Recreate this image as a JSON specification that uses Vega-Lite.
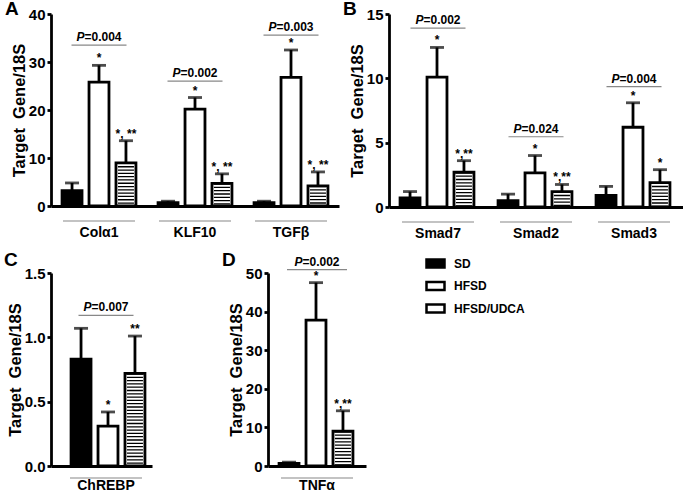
{
  "$schema": "https://vega.github.io/schema/vega-lite/v6.json",
  "background": "white",
  "padding": {"left": 4, "top": 0, "right": 0, "bottom": 0},
  "config": {
    "font": "Liberation Sans",
    "view": {"stroke": null},
    "axis": {"domainColor": "black", "domainWidth": 2.8, "tickColor": "black", "tickWidth": 2.8, "labelFontWeight": "bold", "labelColor": "black", "titleFontWeight": "bold", "titleColor": "black", "grid": false},
    "axisX": {"ticks": false, "labelFontSize": 14, "labelAngle": 0},
    "axisY": {"tickSize": 4, "labelFontSize": 15, "titleFontSize": 16.5, "labelPadding": 2, "titlePadding": 1, "labelOverlap": false, "labelFlush": false},
    "title": {"fontSize": 19, "fontWeight": "bold", "anchor": "start", "frame": "group", "offset": 0, "color": "black", "baseline": "top"}
  },
  "datasets": {
    "bars": [
      {"panel": "A", "gene": "Colα1", "group": "SD", "value": 3.2, "upper": 4.8, "sig": ""},
      {"panel": "A", "gene": "Colα1", "group": "HFSD", "value": 25.8, "upper": 29.3, "sig": "*"},
      {"panel": "A", "gene": "Colα1", "group": "HFSD/UDCA", "value": 9.0, "upper": 13.6, "sig": "*, **"},
      {"panel": "A", "gene": "KLF10", "group": "SD", "value": 0.7, "upper": 1.0, "sig": ""},
      {"panel": "A", "gene": "KLF10", "group": "HFSD", "value": 20.2, "upper": 22.6, "sig": "*"},
      {"panel": "A", "gene": "KLF10", "group": "HFSD/UDCA", "value": 4.7, "upper": 6.7, "sig": "*, **"},
      {"panel": "A", "gene": "TGFβ", "group": "SD", "value": 0.7, "upper": 1.0, "sig": ""},
      {"panel": "A", "gene": "TGFβ", "group": "HFSD", "value": 26.8, "upper": 32.5, "sig": "*"},
      {"panel": "A", "gene": "TGFβ", "group": "HFSD/UDCA", "value": 4.2, "upper": 7.1, "sig": "*, **"},
      {"panel": "B", "gene": "Smad7", "group": "SD", "value": 0.7, "upper": 1.2, "sig": ""},
      {"panel": "B", "gene": "Smad7", "group": "HFSD", "value": 10.1, "upper": 12.4, "sig": "*"},
      {"panel": "B", "gene": "Smad7", "group": "HFSD/UDCA", "value": 2.7, "upper": 3.6, "sig": "*,**"},
      {"panel": "B", "gene": "Smad2", "group": "SD", "value": 0.5, "upper": 1.0, "sig": ""},
      {"panel": "B", "gene": "Smad2", "group": "HFSD", "value": 2.65, "upper": 4.0, "sig": "*"},
      {"panel": "B", "gene": "Smad2", "group": "HFSD/UDCA", "value": 1.2, "upper": 1.75, "sig": "*,**"},
      {"panel": "B", "gene": "Smad3", "group": "SD", "value": 0.9, "upper": 1.6, "sig": ""},
      {"panel": "B", "gene": "Smad3", "group": "HFSD", "value": 6.2, "upper": 8.1, "sig": "*"},
      {"panel": "B", "gene": "Smad3", "group": "HFSD/UDCA", "value": 1.9, "upper": 2.9, "sig": "*"},
      {"panel": "C", "gene": "ChREBP", "group": "SD", "value": 0.83, "upper": 1.07, "sig": ""},
      {"panel": "C", "gene": "ChREBP", "group": "HFSD", "value": 0.31, "upper": 0.42, "sig": "*"},
      {"panel": "C", "gene": "ChREBP", "group": "HFSD/UDCA", "value": 0.72, "upper": 1.01, "sig": "**"},
      {"panel": "D", "gene": "TNFα", "group": "SD", "value": 0.7, "upper": 1.0, "sig": ""},
      {"panel": "D", "gene": "TNFα", "group": "HFSD", "value": 37.8, "upper": 47.5, "sig": "*"},
      {"panel": "D", "gene": "TNFα", "group": "HFSD/UDCA", "value": 9.0, "upper": 14.3, "sig": "*,**"}
    ],
    "pvals": [
      {"panel": "A", "gene": "Colα1", "label": "=0.004", "level": 33.5},
      {"panel": "A", "gene": "KLF10", "label": "=0.002", "level": 26.0},
      {"panel": "A", "gene": "TGFβ", "label": "=0.003", "level": 35.6},
      {"panel": "B", "gene": "Smad7", "label": "=0.002", "level": 13.9},
      {"panel": "B", "gene": "Smad2", "label": "=0.024", "level": 5.46},
      {"panel": "B", "gene": "Smad3", "label": "=0.004", "level": 9.36},
      {"panel": "C", "gene": "ChREBP", "label": "=0.007", "level": 1.17},
      {"panel": "D", "gene": "TNFα", "label": "=0.002", "level": 50.9}
    ]
  },
  "vconcat": [
    {
      "hconcat": [
        {
          "width": 288, "height": 192,
          "title": {"text": "A", "dx": -46, "dy": 16},
          "layer": [
            {"data": {"name": "bars"}, "transform": [{"filter": "datum.panel==='A'"}],
             "mark": {"type": "bar", "stroke": "black", "strokeWidth": 2.8},
             "encoding": {
               "x": {"field": "gene", "type": "nominal", "title": null, "scale": {"domain": ["Colα1", "KLF10", "TGFβ"], "paddingInner": 0, "paddingOuter": 0}, "axis": {"labelPadding": 19}},
               "xOffset": {"field": "group", "type": "nominal", "scale": {"domain": ["SD", "HFSD", "HFSD/UDCA"], "paddingInner": 0.26, "paddingOuter": 0.41}},
               "y": {"field": "value", "type": "quantitative", "title": "Target \u00a0Gene/18S", "scale": {"domain": [0, 40], "nice": false}, "axis": {"values": [0, 10, 20, 30, 40]}},
               "fill": {"field": "group", "type": "nominal", "scale": {"domain": ["SD", "HFSD", "HFSD/UDCA"], "range": ["black", "white", "white"]},
                 "legend": {"title": null, "orient": "none", "legendX": 374, "legendY": 239, "symbolType": "M-1,-0.45H1V0.45H-1Z", "symbolSize": 324, "symbolStrokeColor": "black", "symbolStrokeWidth": 2.5, "labelFontSize": 12, "labelFontWeight": "bold", "labelColor": "black", "rowPadding": 2.5, "labelOffset": 8,
                   "encode": {"symbols": {"update": {"stroke": {"value": "black"}, "strokeWidth": {"value": 2.5}, "fill": [
                     {"test": "datum.value==='HFSD/UDCA'", "value": {"gradient": "linear", "x1": 0, "y1": 0, "x2": 0, "y2": 1, "stops": [
                       {"offset": 0, "color": "white"}, {"offset": 0.25, "color": "white"}, {"offset": 0.25, "color": "black"}, {"offset": 0.4, "color": "black"},
                       {"offset": 0.4, "color": "white"}, {"offset": 0.6, "color": "white"}, {"offset": 0.6, "color": "black"}, {"offset": 0.75, "color": "black"},
                       {"offset": 0.75, "color": "white"}, {"offset": 1, "color": "white"}]}},
                     {"scale": "fill", "field": "value"}]}}}}}
             }},
            {"data": {"name": "bars"}, "transform": [{"filter": "datum.panel==='A' && datum.group==='HFSD/UDCA'"}],
             "mark": {"type": "rule", "strokeWidth": 16, "strokeDash": [1.3, 2], "color": "black", "strokeCap": "butt"},
             "encoding": {
               "x": {"field": "gene", "type": "nominal", "title": null, "scale": {"domain": ["Colα1", "KLF10", "TGFβ"]}},
               "xOffset": {"field": "group", "type": "nominal", "scale": {"domain": ["SD", "HFSD", "HFSD/UDCA"]}},
               "y": {"field": "value", "type": "quantitative", "title": "Target \u00a0Gene/18S", "scale": {"domain": [0, 40], "nice": false}, "axis": {"values": [0, 10, 20, 30, 40]}},
               "y2": {"datum": 0}
             }},
            {"data": {"name": "bars"}, "transform": [{"filter": "datum.panel==='A'"}],
             "mark": {"type": "rule", "strokeWidth": 2.8, "color": "black"},
             "encoding": {
               "x": {"field": "gene", "type": "nominal", "title": null, "scale": {"domain": ["Colα1", "KLF10", "TGFβ"]}},
               "xOffset": {"field": "group", "type": "nominal", "scale": {"domain": ["SD", "HFSD", "HFSD/UDCA"]}},
               "y": {"field": "value", "type": "quantitative", "title": "Target \u00a0Gene/18S", "scale": {"domain": [0, 40], "nice": false}, "axis": {"values": [0, 10, 20, 30, 40]}},
               "y2": {"field": "upper", "title": "Target \u00a0Gene/18S"}
             }},
            {"data": {"name": "bars"}, "transform": [{"filter": "datum.panel==='A'"}],
             "mark": {"type": "tick", "thickness": 2.8, "size": 14, "color": "black", "orient": "horizontal"},
             "encoding": {
               "x": {"field": "gene", "type": "nominal", "title": null, "scale": {"domain": ["Colα1", "KLF10", "TGFβ"]}},
               "xOffset": {"field": "group", "type": "nominal", "scale": {"domain": ["SD", "HFSD", "HFSD/UDCA"]}},
               "y": {"field": "upper", "type": "quantitative", "title": "Target \u00a0Gene/18S", "scale": {"domain": [0, 40], "nice": false}, "axis": {"values": [0, 10, 20, 30, 40]}}
             }},
            {"data": {"name": "bars"}, "transform": [{"filter": "datum.panel==='A' && datum.sig !== ''"}],
             "mark": {"type": "text", "fontSize": 12, "fontWeight": "bold", "dy": -3, "baseline": "alphabetic", "color": "black"},
             "encoding": {
               "x": {"field": "gene", "type": "nominal", "title": null, "scale": {"domain": ["Colα1", "KLF10", "TGFβ"]}},
               "xOffset": {"field": "group", "type": "nominal", "scale": {"domain": ["SD", "HFSD", "HFSD/UDCA"]}},
               "y": {"field": "upper", "type": "quantitative", "title": "Target \u00a0Gene/18S", "scale": {"domain": [0, 40], "nice": false}, "axis": {"values": [0, 10, 20, 30, 40]}},
               "text": {"field": "sig"}
             }},
            {"data": {"name": "pvals"}, "transform": [{"filter": "datum.panel==='A'"}],
             "mark": {"type": "tick", "thickness": 1.2, "size": 55, "color": "#555", "orient": "horizontal"},
             "encoding": {
               "x": {"field": "gene", "type": "nominal", "title": null, "scale": {"domain": ["Colα1", "KLF10", "TGFβ"]}},
               "y": {"field": "level", "type": "quantitative", "title": "Target \u00a0Gene/18S", "scale": {"domain": [0, 40], "nice": false}, "axis": {"values": [0, 10, 20, 30, 40]}}
             }},
            {"data": {"name": "pvals"}, "transform": [{"filter": "datum.panel==='A'"}],
             "mark": {"type": "text", "fontSize": 12, "fontWeight": "bold", "fontStyle": "italic", "dy": -4, "dx": -14.5, "align": "right", "baseline": "alphabetic", "color": "black"},
             "encoding": {
               "x": {"field": "gene", "type": "nominal", "title": null, "scale": {"domain": ["Colα1", "KLF10", "TGFβ"]}},
               "y": {"field": "level", "type": "quantitative", "title": "Target \u00a0Gene/18S", "scale": {"domain": [0, 40], "nice": false}, "axis": {"values": [0, 10, 20, 30, 40]}},
               "text": {"value": "P"}
             }},
            {"data": {"name": "pvals"}, "transform": [{"filter": "datum.panel==='A'"}],
             "mark": {"type": "text", "fontSize": 12, "fontWeight": "bold", "dy": -4, "dx": -14.5, "align": "left", "baseline": "alphabetic", "color": "black"},
             "encoding": {
               "x": {"field": "gene", "type": "nominal", "title": null, "scale": {"domain": ["Colα1", "KLF10", "TGFβ"]}},
               "y": {"field": "level", "type": "quantitative", "title": "Target \u00a0Gene/18S", "scale": {"domain": [0, 40], "nice": false}, "axis": {"values": [0, 10, 20, 30, 40]}},
               "text": {"field": "label"}
             }},
            {"data": {"name": "pvals"}, "transform": [{"filter": "datum.panel==='A'"}],
             "mark": {"type": "tick", "thickness": 1.2, "size": 72, "color": "#555", "orient": "horizontal", "yOffset": 15},
             "encoding": {
               "x": {"field": "gene", "type": "nominal", "title": null, "scale": {"domain": ["Colα1", "KLF10", "TGFβ"]}},
               "y": {"datum": 0, "type": "quantitative", "title": "Target \u00a0Gene/18S", "scale": {"domain": [0, 40], "nice": false}, "axis": {"values": [0, 10, 20, 30, 40]}}
             }}
          ]
        },
        {
          "width": 294, "height": 193,
          "title": {"text": "B", "dx": -46, "dy": 16},
          "layer": [
            {"data": {"name": "bars"}, "transform": [{"filter": "datum.panel==='B'"}],
             "mark": {"type": "bar", "stroke": "black", "strokeWidth": 2.8},
             "encoding": {
               "x": {"field": "gene", "type": "nominal", "title": null, "scale": {"domain": ["Smad7", "Smad2", "Smad3"], "paddingInner": 0, "paddingOuter": 0}, "axis": {"labelPadding": 19}},
               "xOffset": {"field": "group", "type": "nominal", "scale": {"domain": ["SD", "HFSD", "HFSD/UDCA"], "paddingInner": 0.28, "paddingOuter": 0.44}},
               "y": {"field": "value", "type": "quantitative", "title": "Target \u00a0Gene/18S", "scale": {"domain": [0, 15], "nice": false}, "axis": {"values": [0, 5, 10, 15]}},
               "fill": {"field": "group", "type": "nominal", "scale": {"domain": ["SD", "HFSD", "HFSD/UDCA"], "range": ["black", "white", "white"]}, "legend": null}
             }},
            {"data": {"name": "bars"}, "transform": [{"filter": "datum.panel==='B' && datum.group==='HFSD/UDCA'"}],
             "mark": {"type": "rule", "strokeWidth": 16, "strokeDash": [1.3, 2], "color": "black", "strokeCap": "butt"},
             "encoding": {
               "x": {"field": "gene", "type": "nominal", "title": null, "scale": {"domain": ["Smad7", "Smad2", "Smad3"]}},
               "xOffset": {"field": "group", "type": "nominal", "scale": {"domain": ["SD", "HFSD", "HFSD/UDCA"]}},
               "y": {"field": "value", "type": "quantitative", "title": "Target \u00a0Gene/18S", "scale": {"domain": [0, 15], "nice": false}, "axis": {"values": [0, 5, 10, 15]}},
               "y2": {"datum": 0}
             }},
            {"data": {"name": "bars"}, "transform": [{"filter": "datum.panel==='B'"}],
             "mark": {"type": "rule", "strokeWidth": 2.8, "color": "black"},
             "encoding": {
               "x": {"field": "gene", "type": "nominal", "title": null, "scale": {"domain": ["Smad7", "Smad2", "Smad3"]}},
               "xOffset": {"field": "group", "type": "nominal", "scale": {"domain": ["SD", "HFSD", "HFSD/UDCA"]}},
               "y": {"field": "value", "type": "quantitative", "title": "Target \u00a0Gene/18S", "scale": {"domain": [0, 15], "nice": false}, "axis": {"values": [0, 5, 10, 15]}},
               "y2": {"field": "upper", "title": "Target \u00a0Gene/18S"}
             }},
            {"data": {"name": "bars"}, "transform": [{"filter": "datum.panel==='B'"}],
             "mark": {"type": "tick", "thickness": 2.8, "size": 14, "color": "black", "orient": "horizontal"},
             "encoding": {
               "x": {"field": "gene", "type": "nominal", "title": null, "scale": {"domain": ["Smad7", "Smad2", "Smad3"]}},
               "xOffset": {"field": "group", "type": "nominal", "scale": {"domain": ["SD", "HFSD", "HFSD/UDCA"]}},
               "y": {"field": "upper", "type": "quantitative", "title": "Target \u00a0Gene/18S", "scale": {"domain": [0, 15], "nice": false}, "axis": {"values": [0, 5, 10, 15]}}
             }},
            {"data": {"name": "bars"}, "transform": [{"filter": "datum.panel==='B' && datum.sig !== ''"}],
             "mark": {"type": "text", "fontSize": 12, "fontWeight": "bold", "dy": -3, "baseline": "alphabetic", "color": "black"},
             "encoding": {
               "x": {"field": "gene", "type": "nominal", "title": null, "scale": {"domain": ["Smad7", "Smad2", "Smad3"]}},
               "xOffset": {"field": "group", "type": "nominal", "scale": {"domain": ["SD", "HFSD", "HFSD/UDCA"]}},
               "y": {"field": "upper", "type": "quantitative", "title": "Target \u00a0Gene/18S", "scale": {"domain": [0, 15], "nice": false}, "axis": {"values": [0, 5, 10, 15]}},
               "text": {"field": "sig"}
             }},
            {"data": {"name": "pvals"}, "transform": [{"filter": "datum.panel==='B'"}],
             "mark": {"type": "tick", "thickness": 1.2, "size": 55, "color": "#555", "orient": "horizontal"},
             "encoding": {
               "x": {"field": "gene", "type": "nominal", "title": null, "scale": {"domain": ["Smad7", "Smad2", "Smad3"]}},
               "y": {"field": "level", "type": "quantitative", "title": "Target \u00a0Gene/18S", "scale": {"domain": [0, 15], "nice": false}, "axis": {"values": [0, 5, 10, 15]}}
             }},
            {"data": {"name": "pvals"}, "transform": [{"filter": "datum.panel==='B'"}],
             "mark": {"type": "text", "fontSize": 12, "fontWeight": "bold", "fontStyle": "italic", "dy": -4, "dx": -14.5, "align": "right", "baseline": "alphabetic", "color": "black"},
             "encoding": {
               "x": {"field": "gene", "type": "nominal", "title": null, "scale": {"domain": ["Smad7", "Smad2", "Smad3"]}},
               "y": {"field": "level", "type": "quantitative", "title": "Target \u00a0Gene/18S", "scale": {"domain": [0, 15], "nice": false}, "axis": {"values": [0, 5, 10, 15]}},
               "text": {"value": "P"}
             }},
            {"data": {"name": "pvals"}, "transform": [{"filter": "datum.panel==='B'"}],
             "mark": {"type": "text", "fontSize": 12, "fontWeight": "bold", "dy": -4, "dx": -14.5, "align": "left", "baseline": "alphabetic", "color": "black"},
             "encoding": {
               "x": {"field": "gene", "type": "nominal", "title": null, "scale": {"domain": ["Smad7", "Smad2", "Smad3"]}},
               "y": {"field": "level", "type": "quantitative", "title": "Target \u00a0Gene/18S", "scale": {"domain": [0, 15], "nice": false}, "axis": {"values": [0, 5, 10, 15]}},
               "text": {"field": "label"}
             }},
            {"data": {"name": "pvals"}, "transform": [{"filter": "datum.panel==='B'"}],
             "mark": {"type": "tick", "thickness": 1.2, "size": 72, "color": "#555", "orient": "horizontal", "yOffset": 15},
             "encoding": {
               "x": {"field": "gene", "type": "nominal", "title": null, "scale": {"domain": ["Smad7", "Smad2", "Smad3"]}},
               "y": {"datum": 0, "type": "quantitative", "title": "Target \u00a0Gene/18S", "scale": {"domain": [0, 15], "nice": false}, "axis": {"values": [0, 5, 10, 15]}}
             }}
          ]
        }
      ],
      "spacing": 4
    },
    {
      "hconcat": [
        {
          "width": 101, "height": 193,
          "title": {"text": "C", "dx": -47, "dy": 8},
          "layer": [
            {"data": {"name": "bars"}, "transform": [{"filter": "datum.panel==='C'"}],
             "mark": {"type": "bar", "stroke": "black", "strokeWidth": 2.8},
             "encoding": {
               "x": {"field": "gene", "type": "nominal", "title": null, "scale": {"domain": ["ChREBP"], "paddingInner": 0, "paddingOuter": 0.0489, "align": 1}, "axis": {"labelPadding": 12}},
               "xOffset": {"field": "group", "type": "nominal", "scale": {"domain": ["SD", "HFSD", "HFSD/UDCA"], "paddingInner": 0.26, "paddingOuter": 0.33}},
               "y": {"field": "value", "type": "quantitative", "title": "Target \u00a0Gene/18S", "scale": {"domain": [0, 1.5], "nice": false}, "axis": {"values": [0, 0.5, 1, 1.5], "format": ".1f"}},
               "fill": {"field": "group", "type": "nominal", "scale": {"domain": ["SD", "HFSD", "HFSD/UDCA"], "range": ["black", "white", "white"]}, "legend": null}
             }},
            {"data": {"name": "bars"}, "transform": [{"filter": "datum.panel==='C' && datum.group==='HFSD/UDCA'"}],
             "mark": {"type": "rule", "strokeWidth": 16, "strokeDash": [1.3, 2], "color": "black", "strokeCap": "butt"},
             "encoding": {
               "x": {"field": "gene", "type": "nominal", "title": null, "scale": {"domain": ["ChREBP"]}},
               "xOffset": {"field": "group", "type": "nominal", "scale": {"domain": ["SD", "HFSD", "HFSD/UDCA"]}},
               "y": {"field": "value", "type": "quantitative", "title": "Target \u00a0Gene/18S", "scale": {"domain": [0, 1.5], "nice": false}, "axis": {"values": [0, 0.5, 1, 1.5], "format": ".1f"}},
               "y2": {"datum": 0}
             }},
            {"data": {"name": "bars"}, "transform": [{"filter": "datum.panel==='C'"}],
             "mark": {"type": "rule", "strokeWidth": 2.8, "color": "black"},
             "encoding": {
               "x": {"field": "gene", "type": "nominal", "title": null, "scale": {"domain": ["ChREBP"]}},
               "xOffset": {"field": "group", "type": "nominal", "scale": {"domain": ["SD", "HFSD", "HFSD/UDCA"]}},
               "y": {"field": "value", "type": "quantitative", "title": "Target \u00a0Gene/18S", "scale": {"domain": [0, 1.5], "nice": false}, "axis": {"values": [0, 0.5, 1, 1.5], "format": ".1f"}},
               "y2": {"field": "upper", "title": "Target \u00a0Gene/18S"}
             }},
            {"data": {"name": "bars"}, "transform": [{"filter": "datum.panel==='C'"}],
             "mark": {"type": "tick", "thickness": 2.8, "size": 14, "color": "black", "orient": "horizontal"},
             "encoding": {
               "x": {"field": "gene", "type": "nominal", "title": null, "scale": {"domain": ["ChREBP"]}},
               "xOffset": {"field": "group", "type": "nominal", "scale": {"domain": ["SD", "HFSD", "HFSD/UDCA"]}},
               "y": {"field": "upper", "type": "quantitative", "title": "Target \u00a0Gene/18S", "scale": {"domain": [0, 1.5], "nice": false}, "axis": {"values": [0, 0.5, 1, 1.5], "format": ".1f"}}
             }},
            {"data": {"name": "bars"}, "transform": [{"filter": "datum.panel==='C' && datum.sig !== ''"}],
             "mark": {"type": "text", "fontSize": 12, "fontWeight": "bold", "dy": -3, "baseline": "alphabetic", "color": "black"},
             "encoding": {
               "x": {"field": "gene", "type": "nominal", "title": null, "scale": {"domain": ["ChREBP"]}},
               "xOffset": {"field": "group", "type": "nominal", "scale": {"domain": ["SD", "HFSD", "HFSD/UDCA"]}},
               "y": {"field": "upper", "type": "quantitative", "title": "Target \u00a0Gene/18S", "scale": {"domain": [0, 1.5], "nice": false}, "axis": {"values": [0, 0.5, 1, 1.5], "format": ".1f"}},
               "text": {"field": "sig"}
             }},
            {"data": {"name": "pvals"}, "transform": [{"filter": "datum.panel==='C'"}],
             "mark": {"type": "tick", "thickness": 1.2, "size": 55, "color": "#555", "orient": "horizontal"},
             "encoding": {
               "x": {"field": "gene", "type": "nominal", "title": null, "scale": {"domain": ["ChREBP"]}},
               "y": {"field": "level", "type": "quantitative", "title": "Target \u00a0Gene/18S", "scale": {"domain": [0, 1.5], "nice": false}, "axis": {"values": [0, 0.5, 1, 1.5], "format": ".1f"}}
             }},
            {"data": {"name": "pvals"}, "transform": [{"filter": "datum.panel==='C'"}],
             "mark": {"type": "text", "fontSize": 12, "fontWeight": "bold", "fontStyle": "italic", "dy": -4, "dx": -14.5, "align": "right", "baseline": "alphabetic", "color": "black"},
             "encoding": {
               "x": {"field": "gene", "type": "nominal", "title": null, "scale": {"domain": ["ChREBP"]}},
               "y": {"field": "level", "type": "quantitative", "title": "Target \u00a0Gene/18S", "scale": {"domain": [0, 1.5], "nice": false}, "axis": {"values": [0, 0.5, 1, 1.5], "format": ".1f"}},
               "text": {"value": "P"}
             }},
            {"data": {"name": "pvals"}, "transform": [{"filter": "datum.panel==='C'"}],
             "mark": {"type": "text", "fontSize": 12, "fontWeight": "bold", "dy": -4, "dx": -14.5, "align": "left", "baseline": "alphabetic", "color": "black"},
             "encoding": {
               "x": {"field": "gene", "type": "nominal", "title": null, "scale": {"domain": ["ChREBP"]}},
               "y": {"field": "level", "type": "quantitative", "title": "Target \u00a0Gene/18S", "scale": {"domain": [0, 1.5], "nice": false}, "axis": {"values": [0, 0.5, 1, 1.5], "format": ".1f"}},
               "text": {"field": "label"}
             }},
            {"data": {"name": "pvals"}, "transform": [{"filter": "datum.panel==='C'"}],
             "mark": {"type": "tick", "thickness": 1.2, "size": 72, "color": "#555", "orient": "horizontal", "yOffset": 12},
             "encoding": {
               "x": {"field": "gene", "type": "nominal", "title": null, "scale": {"domain": ["ChREBP"]}},
               "y": {"datum": 0, "type": "quantitative", "title": "Target \u00a0Gene/18S", "scale": {"domain": [0, 1.5], "nice": false}, "axis": {"values": [0, 0.5, 1, 1.5], "format": ".1f"}}
             }}
          ]
        },
        {
          "width": 98, "height": 193,
          "title": {"text": "D", "dx": -46, "dy": 18},
          "layer": [
            {"data": {"name": "bars"}, "transform": [{"filter": "datum.panel==='D'"}],
             "mark": {"type": "bar", "stroke": "black", "strokeWidth": 2.8},
             "encoding": {
               "x": {"field": "gene", "type": "nominal", "title": null, "scale": {"domain": ["TNFα"], "paddingInner": 0, "paddingOuter": 0}, "axis": {"labelPadding": 12}},
               "xOffset": {"field": "group", "type": "nominal", "scale": {"domain": ["SD", "HFSD", "HFSD/UDCA"], "paddingInner": 0.28, "paddingOuter": 0.44}},
               "y": {"field": "value", "type": "quantitative", "title": "Target \u00a0Gene/18S", "scale": {"domain": [0, 50], "nice": false}, "axis": {"values": [0, 10, 20, 30, 40, 50], "tickCount": 6}},
               "fill": {"field": "group", "type": "nominal", "scale": {"domain": ["SD", "HFSD", "HFSD/UDCA"], "range": ["black", "white", "white"]}, "legend": null}
             }},
            {"data": {"name": "bars"}, "transform": [{"filter": "datum.panel==='D' && datum.group==='HFSD/UDCA'"}],
             "mark": {"type": "rule", "strokeWidth": 16, "strokeDash": [1.3, 2], "color": "black", "strokeCap": "butt"},
             "encoding": {
               "x": {"field": "gene", "type": "nominal", "title": null, "scale": {"domain": ["TNFα"]}},
               "xOffset": {"field": "group", "type": "nominal", "scale": {"domain": ["SD", "HFSD", "HFSD/UDCA"]}},
               "y": {"field": "value", "type": "quantitative", "title": "Target \u00a0Gene/18S", "scale": {"domain": [0, 50], "nice": false}, "axis": {"values": [0, 10, 20, 30, 40, 50], "tickCount": 6}},
               "y2": {"datum": 0}
             }},
            {"data": {"name": "bars"}, "transform": [{"filter": "datum.panel==='D'"}],
             "mark": {"type": "rule", "strokeWidth": 2.8, "color": "black"},
             "encoding": {
               "x": {"field": "gene", "type": "nominal", "title": null, "scale": {"domain": ["TNFα"]}},
               "xOffset": {"field": "group", "type": "nominal", "scale": {"domain": ["SD", "HFSD", "HFSD/UDCA"]}},
               "y": {"field": "value", "type": "quantitative", "title": "Target \u00a0Gene/18S", "scale": {"domain": [0, 50], "nice": false}, "axis": {"values": [0, 10, 20, 30, 40, 50], "tickCount": 6}},
               "y2": {"field": "upper", "title": "Target \u00a0Gene/18S"}
             }},
            {"data": {"name": "bars"}, "transform": [{"filter": "datum.panel==='D'"}],
             "mark": {"type": "tick", "thickness": 2.8, "size": 14, "color": "black", "orient": "horizontal"},
             "encoding": {
               "x": {"field": "gene", "type": "nominal", "title": null, "scale": {"domain": ["TNFα"]}},
               "xOffset": {"field": "group", "type": "nominal", "scale": {"domain": ["SD", "HFSD", "HFSD/UDCA"]}},
               "y": {"field": "upper", "type": "quantitative", "title": "Target \u00a0Gene/18S", "scale": {"domain": [0, 50], "nice": false}, "axis": {"values": [0, 10, 20, 30, 40, 50], "tickCount": 6}}
             }},
            {"data": {"name": "bars"}, "transform": [{"filter": "datum.panel==='D' && datum.sig !== ''"}],
             "mark": {"type": "text", "fontSize": 12, "fontWeight": "bold", "dy": -3, "baseline": "alphabetic", "color": "black"},
             "encoding": {
               "x": {"field": "gene", "type": "nominal", "title": null, "scale": {"domain": ["TNFα"]}},
               "xOffset": {"field": "group", "type": "nominal", "scale": {"domain": ["SD", "HFSD", "HFSD/UDCA"]}},
               "y": {"field": "upper", "type": "quantitative", "title": "Target \u00a0Gene/18S", "scale": {"domain": [0, 50], "nice": false}, "axis": {"values": [0, 10, 20, 30, 40, 50], "tickCount": 6}},
               "text": {"field": "sig"}
             }},
            {"data": {"name": "pvals"}, "transform": [{"filter": "datum.panel==='D'"}],
             "mark": {"type": "tick", "thickness": 1.2, "size": 60, "color": "#555", "orient": "horizontal"},
             "encoding": {
               "x": {"field": "gene", "type": "nominal", "title": null, "scale": {"domain": ["TNFα"]}},
               "y": {"field": "level", "type": "quantitative", "title": "Target \u00a0Gene/18S", "scale": {"domain": [0, 50], "nice": false}, "axis": {"values": [0, 10, 20, 30, 40, 50], "tickCount": 6}}
             }},
            {"data": {"name": "pvals"}, "transform": [{"filter": "datum.panel==='D'"}],
             "mark": {"type": "text", "fontSize": 12, "fontWeight": "bold", "fontStyle": "italic", "dy": -4, "dx": -14.5, "align": "right", "baseline": "alphabetic", "color": "black"},
             "encoding": {
               "x": {"field": "gene", "type": "nominal", "title": null, "scale": {"domain": ["TNFα"]}},
               "y": {"field": "level", "type": "quantitative", "title": "Target \u00a0Gene/18S", "scale": {"domain": [0, 50], "nice": false}, "axis": {"values": [0, 10, 20, 30, 40, 50], "tickCount": 6}},
               "text": {"value": "P"}
             }},
            {"data": {"name": "pvals"}, "transform": [{"filter": "datum.panel==='D'"}],
             "mark": {"type": "text", "fontSize": 12, "fontWeight": "bold", "dy": -4, "dx": -14.5, "align": "left", "baseline": "alphabetic", "color": "black"},
             "encoding": {
               "x": {"field": "gene", "type": "nominal", "title": null, "scale": {"domain": ["TNFα"]}},
               "y": {"field": "level", "type": "quantitative", "title": "Target \u00a0Gene/18S", "scale": {"domain": [0, 50], "nice": false}, "axis": {"values": [0, 10, 20, 30, 40, 50], "tickCount": 6}},
               "text": {"field": "label"}
             }},
            {"data": {"name": "pvals"}, "transform": [{"filter": "datum.panel==='D'"}],
             "mark": {"type": "tick", "thickness": 1.2, "size": 72, "color": "#555", "orient": "horizontal", "yOffset": 12},
             "encoding": {
               "x": {"field": "gene", "type": "nominal", "title": null, "scale": {"domain": ["TNFα"]}},
               "y": {"datum": 0, "type": "quantitative", "title": "Target \u00a0Gene/18S", "scale": {"domain": [0, 50], "nice": false}, "axis": {"values": [0, 10, 20, 30, 40, 50], "tickCount": 6}}
             }}
          ]
        }
      ],
      "spacing": 70
    }
  ],
  "spacing": 10
}
